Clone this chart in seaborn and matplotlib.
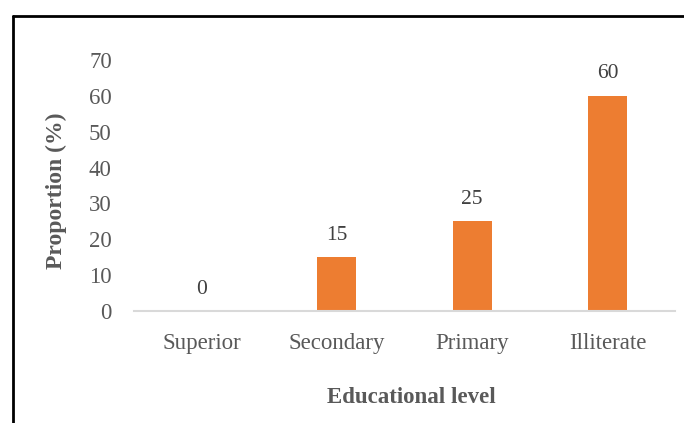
import matplotlib
matplotlib.use("Agg")
import matplotlib.pyplot as plt
import seaborn as sns
import pandas as pd
from matplotlib.lines import Line2D

levels = ["Superior", "Secondary", "Primary", "Illiterate"]
proportions = [0, 15, 25, 60]
y_ticks = [0, 10, 20, 30, 40, 50, 60, 70]

sns.set_theme(style="white")
plt.rcParams["font.family"] = ["Liberation Serif", "DejaVu Serif"]

grey = "#595959"
orange = "#ED7D31"

df = pd.DataFrame({"level": levels, "proportion": proportions})

fig = plt.figure(figsize=(6.84, 4.23), dpi=100)
ax = fig.add_axes([134 / 684, 1 - 311 / 423, (675 - 134) / 684, (311 - 60) / 423])

sns.barplot(data=df, x="level", y="proportion", color=orange, width=0.29,
            saturation=1, ax=ax, edgecolor="none")

ax.set_ylim(0, 70)
ax.set_yticks(y_ticks)
ax.set_xlim(-0.5, 3.5)

for i, v in enumerate(proportions):
    ax.annotate(f"{v}", (i, v), xytext=(0, 9), textcoords="offset points",
                ha="center", va="bottom", fontsize=15.5, color="#404040")

for s in ["top", "right", "left"]:
    ax.spines[s].set_visible(False)
ax.spines["bottom"].set_color("#D9D9D9")
ax.spines["bottom"].set_linewidth(1.5)

ax.tick_params(axis="both", length=0, labelsize=16.5, labelcolor=grey)
ax.tick_params(axis="y", pad=16)
ax.tick_params(axis="x", pad=15.5)

ax.set_xlabel("Educational level", fontsize=16.5, fontweight="bold", color=grey, labelpad=24)
ax.set_ylabel("Proportion (%)", fontsize=17, fontweight="bold", color=grey, labelpad=16)
ax.xaxis.label.set_x(0.512)
ax.yaxis.label.set_y(0.478)

# outer frame around the chart area
fig.add_artist(Line2D([12.5 / 684, 12.5 / 684], [0, 1 - 16 / 423], transform=fig.transFigure,
                      color="black", linewidth=2))
fig.add_artist(Line2D([12.5 / 684, 1], [1 - 16 / 423, 1 - 16 / 423], transform=fig.transFigure,
                      color="black", linewidth=2))

fig.savefig("out.png", dpi=100, facecolor="white")
